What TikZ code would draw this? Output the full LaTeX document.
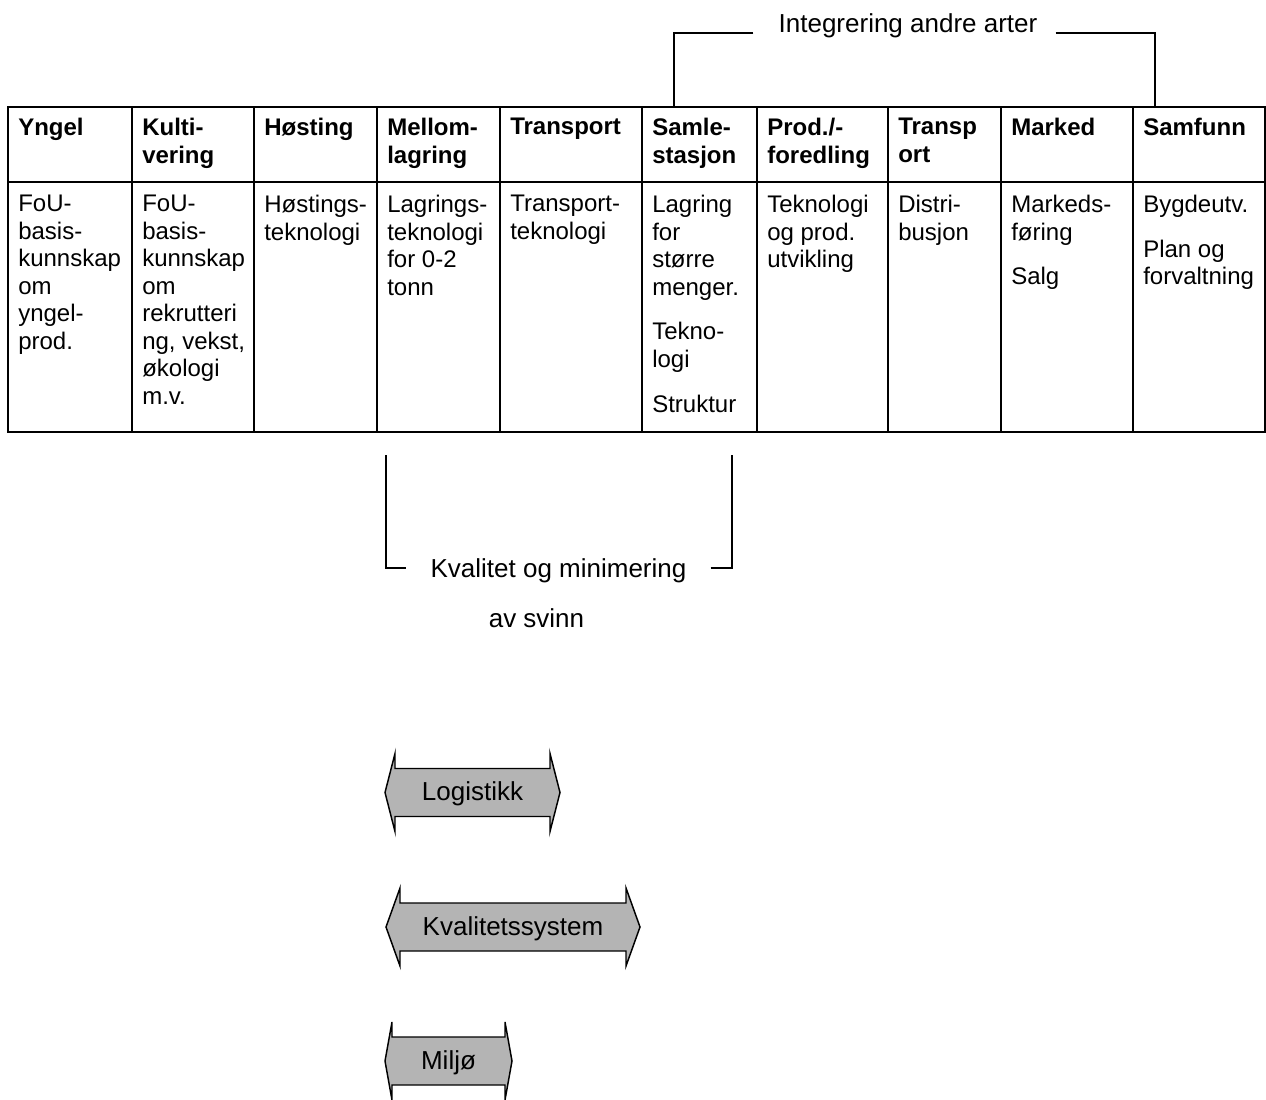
\documentclass[tikz,border=0pt]{standalone}
\usepackage{fontspec}
\setmainfont{Liberation Sans}
\definecolor{arrowgray}{RGB}{180,180,180}
\tikzset{
    x=0.75pt, y=-0.75pt, % one unit is one pixel, y runs downwards
    tableline/.style={line width=1.5pt},
    bracket/.style={line width=1.1pt},
    headcell/.style={anchor=north west, inner sep=0pt, align=left, font=\fontsize{18}{20.6}\selectfont\bfseries},
    bodycell/.style={anchor=north west, inner sep=0pt, align=left, font=\fontsize{18}{20.6}\selectfont},
    remark/.style={inner sep=0pt, anchor=base, font=\fontsize{19.5}{22}\selectfont},
    arrowbody/.style={draw, line width=1.1pt, fill=arrowgray, line join=miter},
}
% double arrow: name, centre y, left back, right back, head length, text
\newcommand{\dblarrow}[6]{%
    \draw[arrowbody] (#3-#5,#2) -- (#3,#2-39) -- (#3,#2-24) -- (#4,#2-24) -- (#4,#2-39)
        -- (#4+#5,#2) -- (#4,#2+39) -- (#4,#2+24) -- (#3,#2+24) -- (#3,#2+39) -- cycle;
    \node[remark] (#1) at ({(#3+#4)/2},#2+8) {#6};
}
\begin{document}
\begin{tikzpicture}
    \useasboundingbox (0,0) rectangle (1266,1099);
    % the table
    \draw[tableline] (8,107) rectangle (1265,432);
    \draw[tableline] (8,182) -- (1265,182);
    \draw[tableline]
        (132,107) -- (132,432)  (254,107) -- (254,432)
        (377,107) -- (377,432)  (500,107) -- (500,432)
        (642,107) -- (642,432)  (757,107) -- (757,432)
        (888,107) -- (888,432)  (1001,107) -- (1001,432)
        (1133,107) -- (1133,432);
    % header row
    \node[headcell] (h-yngel) at (18,118) {Yngel};
    \node[headcell] (h-kulti) at (142,118) {Kulti-\\vering};
    \node[headcell] (h-hosting) at (264,118) {Høsting};
    \node[headcell] (h-mellom) at (387,118) {Mellom-\\lagring};
    \node[headcell] (h-transport) at (510,118) {Transport};
    \node[headcell] (h-samle) at (652,118) {Samle-\\stasjon};
    \node[headcell] (h-prod) at (767,118) {Prod./-\\foredling};
    \node[headcell] (h-transp) at (898,118) {Transp\\ort};
    \node[headcell] (h-marked) at (1011,118) {Marked};
    \node[headcell] (h-samfunn) at (1143,118) {Samfunn};
    % body row
    \node[bodycell] (b-yngel) at (18,195) {FoU-\\basis-\\kunnskap\\om\\yngel-\\prod.};
    \node[bodycell] (b-kulti) at (142,195) {FoU-\\basis-\\kunnskap\\om\\rekrutteri\\ng, vekst,\\økologi\\m.v.};
    \node[bodycell] (b-hosting) at (264,195) {Høstings-\\teknologi};
    \node[bodycell] (b-mellom) at (387,195) {Lagrings-\\teknologi\\for 0-2\\tonn};
    \node[bodycell] (b-transport) at (510,195) {Transport-\\teknologi};
    \node[bodycell] (b-samle) at (652,195) {Lagring\\for\\større\\menger.\\[13pt]Tekno-\\logi\\[13pt]Struktur};
    \node[bodycell] (b-prod) at (767,195) {Teknologi\\og prod.\\utvikling};
    \node[bodycell] (b-transp) at (898,195) {Distri-\\busjon};
    \node[bodycell] (b-marked) at (1011,195) {Markeds-\\føring\\[13pt]Salg};
    \node[bodycell] (b-samfunn) at (1143,195) {Bygdeutv.\\[13pt]Plan og\\forvaltning};
    % bracket above
    \node[remark] (integ) at (908,33) {Integrering andre arter};
    \coordinate (integ-l) at (674,107);
    \coordinate (integ-r) at (1155,107);
    \draw[bracket] ([shift={(-25,0)}]integ.base west) -| (integ-l);
    \draw[bracket] ([shift={(18,0)}]integ.base east) -| (integ-r);
    % bracket below
    \node[remark] (kval) at (558.5,577) {Kvalitet og minimering};
    \node[remark] (svinn) at (536.5,627) {av svinn};
    \coordinate (kval-l) at (386,455);
    \coordinate (kval-r) at (732,455);
    \draw[bracket] (kval-l) |- ([shift={(-24,-9)}]kval.base west);
    \draw[bracket] ([shift={(24,-9)}]kval.base east) -| (kval-r);
    % double arrows
    \dblarrow{logistikk}{792.5}{395}{550}{10}{Logistikk}
    \dblarrow{kvalsys}{927}{400}{626}{14}{Kvalitetssystem}
    \dblarrow{miljo}{1061}{392}{505}{7}{Miljø}
\end{tikzpicture}
\end{document}
